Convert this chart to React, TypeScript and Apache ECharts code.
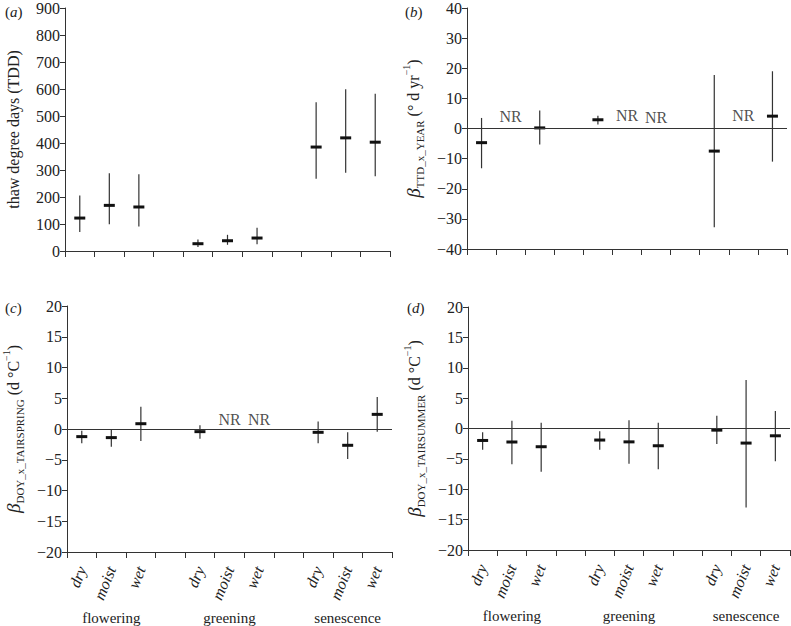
import React, { useEffect, useRef } from "react";
import * as echarts from "echarts";

const FONT = "Liberation Serif";

const categories = ["dry", "moist", "wet", "", "dry", "moist", "wet", "", "dry", "moist", "wet"];
const groupLabels = ["", "flowering", "", "", "", "greening", "", "", "", "senescence", ""];

// (a) thaw degree days
const tddMean = [122, 169, 163, null, 27, 38, 48, null, 385, 419, 403];
const tddLow = [70, 99, 91, null, 15, 23, 25, null, 268, 290, 277];
const tddHigh = [206, 288, 284, null, 43, 60, 86, null, 551, 599, 582];

// (b) beta TTD x YEAR
const yearMean = [-4.7, null, 0.2, null, 2.9, null, null, null, -7.5, null, 4.1];
const yearLow = [-13.2, null, -5.3, null, 1.3, null, null, null, -32.8, null, -11];
const yearHigh = [3.5, null, 6, null, 4.2, null, null, null, 17.8, null, 19];
const yearNR = [null, 4.1, null, null, null, 4.4, 3.6, null, null, 4.4, null];

// (c) beta DOY x TAIRSPRING
const springMean = [-1.24, -1.4, 0.86, null, -0.43, null, null, null, -0.54, -2.65, 2.38];
const springLow = [-2.3, -2.9, -1.95, null, -1.57, null, null, null, -2.3, -4.86, -0.43];
const springHigh = [-0.27, -0.05, 3.6, null, 0.6, null, null, null, 1.2, -0.54, 5.2];
const springNR = [null, null, null, null, null, 1.5, 1.5, null, null, null, null];

// (d) beta DOY x TAIRSUMMER
const summerMean = [-1.97, -2.24, -3.0, null, -1.9, -2.2, -2.84, null, -0.27, -2.4, -1.2];
const summerLow = [-3.5, -5.9, -7.1, null, -3.5, -5.8, -6.7, null, -2.57, -13.0, -5.4];
const summerHigh = [-0.6, 1.26, 0.93, null, -0.44, 1.37, 0.93, null, 2.08, 8.0, 2.9];

const yTicksA = { min: 0, max: 900, interval: 100 };
const yTicksB = { min: -40, max: 40, interval: 10 };
const yTicksCD = { min: -20, max: 20, interval: 5 };

function errData(mean: (number | null)[], low: (number | null)[], high: (number | null)[]) {
  const out: number[][] = [];
  mean.forEach((m, i) => {
    if (m !== null && low[i] !== null && high[i] !== null) out.push([i, low[i] as number, high[i] as number, m]);
  });
  return out;
}

function nrData(vals: (number | null)[]) {
  const out: number[][] = [];
  vals.forEach((v, i) => {
    if (v !== null) out.push([i, v]);
  });
  return out;
}

const renderErr = (params: any, api: any) => {
  const x = api.value(0);
  const lo = api.coord([x, api.value(1)]);
  const hi = api.coord([x, api.value(2)]);
  const m = api.coord([x, api.value(3)]);
  return {
    type: "group",
    children: [
      { type: "line", shape: { x1: lo[0], y1: lo[1], x2: hi[0], y2: hi[1] }, style: { stroke: "#333", lineWidth: 1.2 } },
      { type: "rect", shape: { x: m[0] - 5.5, y: m[1] - 1.5, width: 11, height: 3 }, style: { fill: "#111" } },
    ],
  };
};

const zeroLine = {
  silent: true,
  symbol: ["none", "none"],
  label: { show: false },
  lineStyle: { color: "#333", type: "solid", width: 1 },
  data: [{ yAxis: 0 }],
};

const axisCol = "#333";
const minusFmt = (v: number) => String(v).replace("-", "\u2212");

function yAxis(gridIndex: number, ticks: any, name: string, nameGap: number, rich?: any) {
  return {
    type: "value",
    gridIndex,
    ...ticks,
    name,
    nameLocation: "middle",
    nameGap,
    nameTextStyle: { fontFamily: FONT, fontSize: 16, color: "#222", rich },
    axisLine: { show: true, lineStyle: { color: axisCol, width: 1 } },
    axisTick: { show: true, length: 5, lineStyle: { color: axisCol } },
    axisLabel: { fontFamily: FONT, fontSize: 16, color: "#222", margin: 5, formatter: minusFmt },
    splitLine: { show: false },
  };
}

function xAxis(gridIndex: number, showLabels: boolean) {
  return {
    type: "category",
    gridIndex,
    data: categories,
    boundaryGap: true,
    axisLine: { show: true, onZero: false, lineStyle: { color: axisCol, width: 1 } },
    axisTick: { show: true, length: 6, interval: 0, lineStyle: { color: axisCol } },
    axisLabel: {
      show: showLabels,
      interval: 0,
      rotate: 68,
      margin: 15,
      fontFamily: FONT,
      fontSize: 16,
      fontStyle: "italic",
      color: "#222",
    },
  };
}

function groupAxis(gridIndex: number) {
  return {
    type: "category",
    gridIndex,
    data: groupLabels,
    boundaryGap: true,
    position: "bottom",
    offset: 50,
    axisLine: { show: false },
    axisTick: { show: false },
    axisLabel: { interval: 0, margin: 8, fontFamily: FONT, fontSize: 15, color: "#222" },
  };
}

const subRich = {
  b: { fontFamily: FONT, fontStyle: "italic", fontSize: 19, color: "#222", lineHeight: 24 },
  s: { fontFamily: FONT, fontSize: 11, color: "#222", verticalAlign: "bottom", lineHeight: 13 },
  n: { fontFamily: FONT, fontSize: 16, color: "#222" },
  p: { fontFamily: FONT, fontSize: 10, color: "#222", verticalAlign: "top", lineHeight: 12 },
};

export default function App() {
  const ref = useRef<HTMLDivElement>(null);
  useEffect(() => {
    if (!ref.current) return;
    const chart = echarts.init(ref.current, undefined, { renderer: "svg" });
    const panelLabel = (letter: string, x: number, y: number) => ({
      type: "text",
      x,
      y,
      style: {
        text: "({i|" + letter + "})",
        fontFamily: FONT,
        fontSize: 15,
        fill: "#222",
        rich: { i: { fontStyle: "italic", fontFamily: FONT, fontSize: 15, fill: "#222" } },
      },
    });
    const nrLabel = { show: true, position: "inside", formatter: "NR", fontFamily: FONT, fontSize: 16, color: "#222" };
    chart.setOption({
      animation: false,
      backgroundColor: "#fff",
      textStyle: { fontFamily: FONT },
      grid: [
        { left: 65, top: 7, width: 325, height: 244 },
        { left: 467, top: 7, width: 320, height: 242 },
        { left: 66, top: 306, width: 326, height: 246 },
        { left: 468, top: 307, width: 322, height: 243 },
      ],
      xAxis: [xAxis(0, false), xAxis(1, false), xAxis(2, true), xAxis(3, true), groupAxis(2), groupAxis(3)],
      yAxis: [
        yAxis(0, yTicksA, "thaw degree days (TDD)", 44),
        yAxis(1, yTicksB, "{b|\u03b2}{s|TTD_x_YEAR}{n| (\u00b0 d yr}{p|\u22121}{n|)}", 42, subRich),
        yAxis(2, yTicksCD, "{b|\u03b2}{s|DOY_x_TAIRSPRING}{n| (d \u00b0C}{p|\u22121}{n|)}", 42, subRich),
        yAxis(3, yTicksCD, "{b|\u03b2}{s|DOY_x_TAIRSUMMER}{n| (d \u00b0C}{p|\u22121}{n|)}", 42, subRich),
      ],
      series: [
        { type: "custom", xAxisIndex: 0, yAxisIndex: 0, renderItem: renderErr, data: errData(tddMean, tddLow, tddHigh), encode: { x: 0, y: [1, 2, 3] } },
        { type: "custom", xAxisIndex: 1, yAxisIndex: 1, renderItem: renderErr, data: errData(yearMean, yearLow, yearHigh), encode: { x: 0, y: [1, 2, 3] }, markLine: zeroLine },
        { type: "custom", xAxisIndex: 2, yAxisIndex: 2, renderItem: renderErr, data: errData(springMean, springLow, springHigh), encode: { x: 0, y: [1, 2, 3] }, markLine: zeroLine },
        { type: "custom", xAxisIndex: 3, yAxisIndex: 3, renderItem: renderErr, data: errData(summerMean, summerLow, summerHigh), encode: { x: 0, y: [1, 2, 3] }, markLine: zeroLine },
        {
          type: "scatter", xAxisIndex: 1, yAxisIndex: 1, data: nrData(yearNR), symbolSize: 1,
          itemStyle: { color: "rgba(0,0,0,0)" }, label: nrLabel,
        },
        {
          type: "scatter", xAxisIndex: 2, yAxisIndex: 2, data: nrData(springNR), symbolSize: 1,
          itemStyle: { color: "rgba(0,0,0,0)" }, label: nrLabel,
        },
      ],
      graphic: [panelLabel("a", 5, 4), panelLabel("b", 405, 4), panelLabel("c", 5, 300), panelLabel("d", 407, 300)],
    });
    return () => chart.dispose();
  }, []);
  return <div ref={ref} style={{ position: "fixed", left: 0, top: 0, width: 791, height: 626 }} />;
}
